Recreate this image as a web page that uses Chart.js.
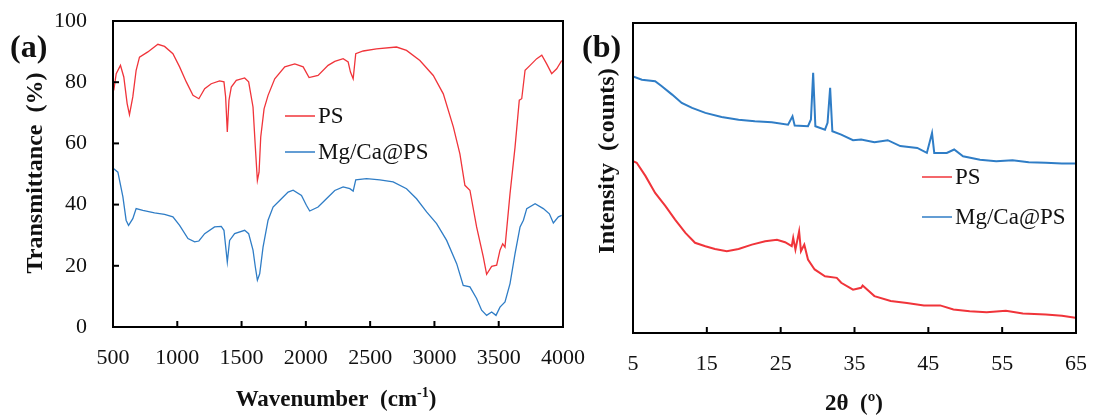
<!DOCTYPE html>
<html>
<head>
<meta charset="utf-8">
<script src="https://cdn.jsdelivr.net/npm/chart.js@4.4.1/dist/chart.umd.min.js"></script>
<style>
  html, body { margin: 0; padding: 0; background: #fff; }
  #wrap { position: relative; width: 1099px; height: 416px; overflow: hidden; }
  .panel { position: absolute; top: 0; height: 416px; }
  #pa { left: 0; width: 600px; }
  #pb { left: 575px; width: 524px; }
</style>
</head>
<body>
<div id="wrap">
  <div class="panel" id="pa"><canvas id="ftir"></canvas></div>
  <div class="panel" id="pb"><canvas id="xrd"></canvas></div>
</div>
<script>
// ---- data ----
const seriesNames = ['PS', 'Mg/Ca@PS'];

// (a) FTIR
const ftirXTicks = [500, 1000, 1500, 2000, 2500, 3000, 3500, 4000];
const ftirYTicks = [0, 20, 40, 60, 80, 100];

const ftirWavePS = [506, 525, 558, 584, 610, 628, 654, 680, 706, 771, 849, 901, 966, 1018, 1070, 1122, 1168,
  1213, 1264, 1329, 1363, 1376, 1389, 1402, 1420, 1459, 1524, 1555, 1589, 1607, 1623, 1636, 1649, 1675, 1706,
  1758, 1836, 1914, 1979, 2025, 2095, 2173, 2225, 2290, 2329, 2347, 2368, 2388, 2446, 2549, 2705, 2783, 2887,
  2991, 3069, 3147, 3198, 3237, 3276, 3328, 3380, 3406, 3445, 3484, 3510, 3531, 3549, 3588, 3627, 3660, 3679,
  3705, 3744, 3796, 3835, 3873, 3912, 3951, 3990];
const ftirTransPS = [77.3, 82.8, 85.5, 81.7, 73, 69.4, 75.2, 83.9, 88.2, 89.9, 92.4, 91.7, 89.3, 85, 80.1, 75.7, 74.6,
  77.9, 79.5, 80.4, 80.1, 75.2, 63.7, 74.1, 78.4, 80.6, 81.4, 80.1, 71.9, 58.8, 47.9, 50.6, 62.1, 71.3, 75.7,
  81.1, 85, 86, 85, 81.5, 82.2, 85.5, 86.8, 87.7, 86.6, 83.3, 81.1, 89.3, 90.2, 90.9, 91.5, 90.4, 87.1,
  82.2, 76.2, 65.4, 56.6, 46.3, 44.7, 32.7, 22.9, 17.2, 19.8, 20.2, 25.1, 27.2, 26.1, 43.6, 58.8, 74.1, 74.6,
  83.9, 85.5, 87.7, 88.8, 86, 82.8, 84.4, 87.1];

const ftirWaveMg = [506, 538, 577, 602, 621, 654, 680, 732, 823, 901, 966, 1018, 1083, 1135, 1168, 1213, 1290,
  1342, 1363, 1389, 1407, 1446, 1524, 1555, 1589, 1607, 1623, 1641, 1667, 1706, 1745, 1810, 1862, 1901, 1966,
  2004, 2030, 2095, 2160, 2225, 2290, 2342, 2368, 2388, 2472, 2575, 2679, 2783, 2861, 2939, 3017, 3095, 3173,
  3224, 3276, 3328, 3367, 3406, 3445, 3479, 3510, 3549, 3588, 3627, 3666, 3692, 3718, 3783, 3847, 3894, 3925,
  3964, 3990];
const ftirTransMg = [51.7, 50.6, 42.5, 34.9, 33.2, 35.4, 38.7, 38.1, 37.3, 36.8, 36, 33.2, 28.9, 27.8, 28.1, 30.5, 32.7,
  32.9, 31.6, 21.2, 28.3, 30.5, 31.6, 30.5, 25.1, 19.6, 15.3, 17.4, 26.1, 34.9, 39.2, 41.9, 44.1, 44.7, 43,
  39.8, 37.9, 39.2, 41.9, 44.6, 45.8, 45.2, 44.4, 48.1, 48.5, 48.1, 47.4, 45.2, 41.9, 37.6, 33.8, 28.3, 20.7,
  13.6, 13.1, 9.3, 5.5, 3.8, 4.9, 3.8, 6.5, 8.2, 14.2, 24, 32.7, 34.9, 38.7, 40.3, 38.7, 37, 34,
  36, 36.5];

// (b) XRD (arbitrary intensity units, 0-100 of the frame height)
const xrdXTicks = [5, 15, 25, 35, 45, 55, 65];

const xrdAnglePS = [5.0, 5.5, 6.7, 8.0, 9.4, 10.7, 12.1, 13.4, 14.8, 16.1, 17.7, 19.3, 21.1, 22.9, 24.5, 25.6,
  26.5, 26.7, 27.0, 27.5, 27.75, 28.2, 28.7, 29.6, 31.0, 32.6, 33.2, 34.8, 35.9, 36.1, 37.7, 39.9, 42.1, 44.4,
  46.6, 48.4, 50.6, 52.9, 55.5, 57.8, 60.9, 63.1, 64.9];
const xrdIntPS = [55.4, 54.9, 50.6, 45.2, 40.9, 36.6, 32.3, 29.1, 28, 27.1, 26.4, 27.1, 28.5, 29.6, 30.1, 29.3,
  28, 30.7, 26.9, 32.8, 26.4, 28.5, 23.7, 20.5, 18.3, 17.8, 16.2, 14, 14.6, 15.3, 11.9, 10.3, 9.7, 8.9,
  8.9, 7.6, 7.0, 6.7, 7.2, 6.3, 6, 5.6, 4.9];

const xrdAngleMg = [5.0, 6.2, 8.0, 8.9, 10.3, 11.6, 13.0, 14.8, 17.0, 19.3, 21.5, 23.8, 26.0, 26.6, 26.9, 28.7,
  29.1, 29.4, 29.7, 31.0, 31.35, 31.7, 32.0, 33.2, 34.8, 35.9, 37.7, 39.5, 41.2, 43.5, 44.8, 45.5, 45.8, 47.5,
  48.5, 49.7, 52.0, 54.2, 56.4, 58.6, 60.9, 63.1, 64.9];
const xrdIntMg = [82.8, 81.7, 81.2, 79.6, 76.9, 74.2, 72.6, 71, 69.7, 68.8, 68.3, 68, 67.2, 69.9, 66.9, 66.7,
  68.9, 83.9, 66.7, 65.6, 67.8, 79.1, 65.1, 64, 62.2, 62.4, 61.5, 62.2, 60.3, 59.7, 58.1, 64.5, 58.1, 58.1,
  59.2, 57, 55.9, 55.4, 55.7, 55.1, 54.9, 54.7, 54.7];

// ---- styling ----
const SERIF = '"Liberation Serif", "Times New Roman", serif';
const TEXT_COLOR = '#111';
const RED = '#f0343a';
const BLUE = '#2f7dc6';
const TICK_LEN = 6;

const toPoints = (xs, ys) => xs.map((x, i) => ({ x, y: ys[i] }));
const plainLabel = v => String(v);

// fixed axis box sizes, no label overhang padding
function fixSize(prop, size) {
  return s => {
    s[prop] = size;
    s.paddingLeft = s.paddingRight = s.paddingTop = s.paddingBottom = 0;
  };
}

// frame, inward tick marks, legend and titles
const panelDecor = {
  id: 'panelDecor',
  afterDraw(chart, args, o) {
    const ctx = chart.ctx;
    const a = chart.chartArea;
    ctx.save();
    ctx.strokeStyle = '#000';
    ctx.lineWidth = 2;
    ctx.strokeRect(a.left, a.top, a.right - a.left, a.bottom - a.top);

    const xs = chart.scales.x;
    xs.ticks.forEach(t => {
      const px = xs.getPixelForValue(t.value);
      if (px <= a.left + 1 || px >= a.right - 1) return;
      ctx.beginPath(); ctx.moveTo(px, a.bottom); ctx.lineTo(px, a.bottom - TICK_LEN); ctx.stroke();
    });
    if (o.yTicks) {
      const ys = chart.scales.y;
      ys.ticks.forEach(t => {
        const py = ys.getPixelForValue(t.value);
        if (py <= a.top + 1 || py >= a.bottom - 1) return;
        ctx.beginPath(); ctx.moveTo(a.left, py); ctx.lineTo(a.left + TICK_LEN, py); ctx.stroke();
      });
    }

    // legend
    ctx.font = `23px ${SERIF}`;
    ctx.textBaseline = 'middle';
    ctx.textAlign = 'left';
    ctx.fillStyle = TEXT_COLOR;
    chart.data.datasets.forEach((ds, i) => {
      const y = o.legendY + i * o.legendDy;
      ctx.strokeStyle = ds.borderColor;
      ctx.lineWidth = 1.5;
      ctx.beginPath(); ctx.moveTo(o.legendX, y); ctx.lineTo(o.legendX + 30, y); ctx.stroke();
      ctx.fillText(ds.label, o.legendX + 33, y + 1);
    });

    // panel letter
    ctx.textBaseline = 'alphabetic';
    ctx.font = `bold 32px ${SERIF}`;
    ctx.fillText(o.panel, o.panelX, o.panelY);

    // y title
    ctx.save();
    ctx.translate(o.yTitleX, o.yTitleY);
    ctx.rotate(-Math.PI / 2);
    ctx.font = `bold 24px ${SERIF}`;
    ctx.textAlign = 'center';
    ctx.textBaseline = 'middle';
    ctx.fillText(o.yTitle, 0, 0);
    ctx.restore();

    // x title (main text, optional superscript, tail)
    const mainFont = `bold 23px ${SERIF}`;
    const supFont = `bold 14px ${SERIF}`;
    ctx.font = mainFont;
    const w1 = ctx.measureText(o.xTitle[0]).width;
    const w3 = ctx.measureText(o.xTitle[2] || '').width;
    ctx.font = supFont;
    const w2 = o.xTitle[1] ? ctx.measureText(o.xTitle[1]).width : 0;
    let x = o.xTitleX - (w1 + w2 + w3) / 2;
    ctx.textAlign = 'left';
    ctx.font = mainFont;
    ctx.fillText(o.xTitle[0], x, o.xTitleY);
    x += w1;
    if (o.xTitle[1]) {
      ctx.font = supFont;
      ctx.fillText(o.xTitle[1], x, o.xTitleY - 9);
      x += w2;
    }
    ctx.font = mainFont;
    if (o.xTitle[2]) ctx.fillText(o.xTitle[2], x, o.xTitleY);
    ctx.restore();
  }
};

const tickFont = { family: SERIF, size: 22 };

// ---- (a) FTIR ----
new Chart(document.getElementById('ftir'), {
  type: 'line',
  data: {
    datasets: [
      { label: seriesNames[0], data: toPoints(ftirWavePS, ftirTransPS), borderColor: RED, borderWidth: 1.3 },
      { label: seriesNames[1], data: toPoints(ftirWaveMg, ftirTransMg), borderColor: BLUE, borderWidth: 1.3 },
    ],
  },
  options: {
    responsive: true,
    maintainAspectRatio: false,
    animation: false,
    parsing: false,
    elements: { point: { radius: 0 }, line: { tension: 0 } },
    layout: { autoPadding: false, padding: { top: 21, right: 37, left: 0, bottom: 0 } },
    plugins: {
      legend: { display: false },
      tooltip: { enabled: false },
      panelDecor: {
        yTicks: true,
        legendX: 285, legendY: 116, legendDy: 36,
        panel: '(a)', panelX: 10, panelY: 57,
        yTitle: 'Transmittance  (%)', yTitleX: 36, yTitleY: 173,
        xTitle: ['Wavenumber  (cm', '-1', ')'], xTitleX: 336, xTitleY: 406,
      },
    },
    scales: {
      x: {
        type: 'linear', min: 500, max: 4000,
        afterBuildTicks: s => { s.ticks = ftirXTicks.map(v => ({ value: v })); },
        afterFit: fixSize('height', 89),
        ticks: { font: tickFont, color: TEXT_COLOR, padding: 18, maxRotation: 0, callback: plainLabel },
        grid: { display: false, drawTicks: false },
        border: { display: false },
      },
      y: {
        min: 0, max: 100,
        afterBuildTicks: s => { s.ticks = ftirYTicks.map(v => ({ value: v })); },
        afterFit: fixSize('width', 113),
        ticks: { font: tickFont, color: TEXT_COLOR, padding: 26, callback: plainLabel },
        grid: { display: false, drawTicks: false },
        border: { display: false },
      },
    },
  },
  plugins: [panelDecor],
});

// ---- (b) XRD ----
new Chart(document.getElementById('xrd'), {
  type: 'line',
  data: {
    datasets: [
      { label: seriesNames[0], data: toPoints(xrdAnglePS, xrdIntPS), borderColor: RED, borderWidth: 2 },
      { label: seriesNames[1], data: toPoints(xrdAngleMg, xrdIntMg), borderColor: BLUE, borderWidth: 2 },
    ],
  },
  options: {
    responsive: true,
    maintainAspectRatio: false,
    animation: false,
    parsing: false,
    elements: { point: { radius: 0 }, line: { tension: 0 } },
    layout: { autoPadding: false, padding: { top: 23, right: 23, left: 0, bottom: 0 } },
    plugins: {
      legend: { display: false },
      tooltip: { enabled: false },
      panelDecor: {
        yTicks: false,
        legendX: 347, legendY: 177, legendDy: 40,
        panel: '(b)', panelX: 7, panelY: 57,
        yTitle: 'Intensity  (counts)', yTitleX: 33, yTitleY: 161,
        xTitle: ['2\u03b8  (\u00ba)', '', ''], xTitleX: 279, xTitleY: 410,
      },
    },
    scales: {
      x: {
        type: 'linear', min: 5, max: 65,
        afterBuildTicks: s => { s.ticks = xrdXTicks.map(v => ({ value: v })); },
        afterFit: fixSize('height', 83),
        ticks: { font: tickFont, color: TEXT_COLOR, padding: 18, maxRotation: 0, callback: plainLabel },
        grid: { display: false, drawTicks: false },
        border: { display: false },
      },
      y: {
        min: 0, max: 100,
        afterFit: fixSize('width', 58),
        ticks: { display: false },
        grid: { display: false, drawTicks: false },
        border: { display: false },
      },
    },
  },
  plugins: [panelDecor],
});
</script>
</body>
</html>
